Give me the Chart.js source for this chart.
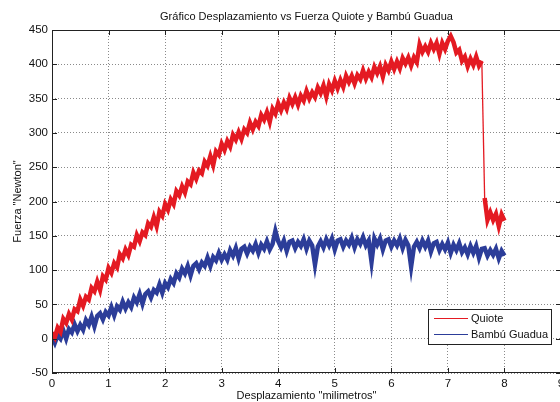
<!DOCTYPE html>
<html>
<head>
<meta charset="utf-8">
<script src="https://cdn.jsdelivr.net/npm/chart.js@4/dist/chart.umd.min.js"></script>
<style>
  html, body { margin: 0; padding: 0; background: #fff; overflow: hidden; }
  #grafico { display: block; }
</style>
</head>
<body>
<canvas id="grafico" width="580" height="402"></canvas>
<script>
// Desplazamiento (mm), muestras cada 0.05 mm
const desplazamiento = [
  0, 0.05, 0.1, 0.15, 0.2, 0.25, 0.3, 0.35, 0.4, 0.45,
  0.5, 0.55, 0.6, 0.65, 0.7, 0.75, 0.8, 0.85, 0.9, 0.95,
  1, 1.05, 1.1, 1.15, 1.2, 1.25, 1.3, 1.35, 1.4, 1.45,
  1.5, 1.55, 1.6, 1.65, 1.7, 1.75, 1.8, 1.85, 1.9, 1.95,
  2, 2.05, 2.1, 2.15, 2.2, 2.25, 2.3, 2.35, 2.4, 2.45,
  2.5, 2.55, 2.6, 2.65, 2.7, 2.75, 2.8, 2.85, 2.9, 2.95,
  3, 3.05, 3.1, 3.15, 3.2, 3.25, 3.3, 3.35, 3.4, 3.45,
  3.5, 3.55, 3.6, 3.65, 3.7, 3.75, 3.8, 3.85, 3.9, 3.95,
  4, 4.05, 4.1, 4.15, 4.2, 4.25, 4.3, 4.35, 4.4, 4.45,
  4.5, 4.55, 4.6, 4.65, 4.7, 4.75, 4.8, 4.85, 4.9, 4.95,
  5, 5.05, 5.1, 5.15, 5.2, 5.25, 5.3, 5.35, 5.4, 5.45,
  5.5, 5.55, 5.6, 5.65, 5.7, 5.75, 5.8, 5.85, 5.9, 5.95,
  6, 6.05, 6.1, 6.15, 6.2, 6.25, 6.3, 6.35, 6.4, 6.45,
  6.5, 6.55, 6.6, 6.65, 6.7, 6.75, 6.8, 6.85, 6.9, 6.95,
  7, 7.05, 7.1, 7.15, 7.2, 7.25, 7.3, 7.35, 7.4, 7.45,
  7.5, 7.55, 7.6, 7.65, 7.7, 7.75, 7.8, 7.85, 7.9, 7.95,
  8
];

// Fuerza (N) - Quiote
const fuerzaQuiote = [
  9, 2, 16, 10, 29, 23, 36, 28, 43, 40,
  57, 48, 61, 57, 74, 69, 83, 71, 91, 86,
  103, 96, 110, 104, 123, 117, 130, 122, 137, 134,
  151, 142, 155, 151, 168, 163, 177, 164, 185, 179,
  196, 188, 203, 196, 215, 209, 222, 213, 229, 225,
  242, 233, 245, 241, 258, 252, 266, 253, 273, 268,
  284, 275, 288, 280, 297, 290, 301, 291, 305, 300,
  315, 305, 316, 310, 326, 319, 330, 316, 335, 328,
  343, 333, 344, 335, 351, 342, 352, 341, 354, 347,
  361, 350, 359, 352, 366, 358, 369, 353, 371, 362,
  376, 365, 377, 367, 383, 374, 383, 372, 384, 378,
  391, 379, 389, 381, 396, 387, 397, 382, 399, 391,
  404, 393, 404, 394, 409, 401, 410, 398, 410, 403,
  429, 418, 426, 418, 431, 422, 431, 415, 431, 422,
  434, 441, 432, 417, 421, 405, 411, 397, 408, 399,
  411, 398, 405, 205, 173, 184, 173, 182, 164, 181,
  172
];

// Fuerza (N) - Bambú Guadua
const fuerzaBambu = [
  3, -6, 5, 0, 12, 0, 14, 9, 21, 11,
  20, 13, 27, 20, 32, 18, 33, 37, 28, 39,
  34, 46, 34, 47, 42, 54, 44, 53, 46, 60,
  53, 65, 51, 65, 69, 60, 71, 67, 79, 67,
  81, 75, 87, 81, 95, 89, 102, 95, 106, 92,
  106, 110, 101, 111, 106, 118, 106, 119, 114, 125,
  115, 123, 115, 129, 121, 132, 117, 131, 134, 124,
  134, 128, 138, 125, 137, 131, 142, 130, 138, 157,
  142, 133, 143, 128, 141, 143, 132, 141, 135, 145,
  131, 143, 136, 108, 134, 142, 133, 145, 136, 146,
  130, 143, 145, 134, 143, 137, 147, 133, 145, 138,
  148, 136, 143, 112, 146, 137, 146, 130, 143, 145,
  134, 143, 136, 146, 132, 144, 136, 105, 134, 141,
  132, 143, 134, 143, 127, 139, 141, 129, 138, 130,
  140, 125, 137, 129, 139, 126, 133, 123, 135, 125,
  135, 118, 131, 132, 121, 129, 122, 131, 117, 128,
  121
];

const series = ["Quiote", "Bambú Guadua"];
const coloresSerie = ["#e41a22", "#2c3d99"];
const ticksX = [0, 1, 2, 3, 4, 5, 6, 7, 8, 9];
const ticksY = [-50, 0, 50, 100, 150, 200, 250, 300, 350, 400, 450];

const fuente = "'Liberation Sans', Arial, sans-serif";

function puntos(ys) {
  return ys.map((y, i) => ({ x: desplazamiento[i], y: y }));
}

// el tramo de la caida brusca se ve como una linea fina
function anchoTramo(c) {
  return Math.abs(c.p1.parsed.y - c.p0.parsed.y) > 100 ? 1.3 : undefined;
}

// titulo, marco con marcas hacia dentro y leyenda al estilo MATLAB
const estiloMatlab = {
  id: "estiloMatlab",
  afterDraw(chart) {
    const ctx = chart.ctx;
    const a = chart.chartArea;
    const sx = chart.scales.x;
    const sy = chart.scales.y;

    ctx.save();
    ctx.fillStyle = "#111";
    ctx.font = "11px " + fuente;
    ctx.textAlign = "center";
    ctx.textBaseline = "middle";
    ctx.fillText("Gráfico Desplazamiento vs Fuerza Quiote y Bambú Guadua", (a.left + a.right) / 2, 17);

    ctx.strokeStyle = "#222";
    ctx.lineWidth = 1;
    ctx.strokeRect(a.left + 0.5, a.top + 0.5, a.right - a.left - 1, a.bottom - a.top - 1);

    ctx.beginPath();
    ticksX.forEach((v) => {
      const px = Math.round(sx.getPixelForValue(v)) + 0.5;
      ctx.moveTo(px, a.bottom);
      ctx.lineTo(px, a.bottom - 5);
      ctx.moveTo(px, a.top);
      ctx.lineTo(px, a.top + 5);
    });
    ticksY.forEach((v) => {
      const py = Math.round(sy.getPixelForValue(v)) + 0.5;
      ctx.moveTo(a.left, py);
      ctx.lineTo(a.left + 5, py);
      ctx.moveTo(a.right, py);
      ctx.lineTo(a.right - 5, py);
    });
    ctx.stroke();

    // leyenda
    const lx = 428, ly = 309, lw = 123, lh = 35;
    ctx.fillStyle = "#fff";
    ctx.fillRect(lx, ly, lw, lh);
    ctx.strokeStyle = "#222";
    ctx.strokeRect(lx + 0.5, ly + 0.5, lw, lh);
    ctx.textAlign = "left";
    ctx.font = "11px " + fuente;
    series.forEach((nombre, i) => {
      const y = ly + 9.5 + i * 16;
      ctx.strokeStyle = coloresSerie[i];
      ctx.beginPath();
      ctx.moveTo(434, y);
      ctx.lineTo(468, y);
      ctx.stroke();
      ctx.fillStyle = "#111";
      ctx.fillText(nombre, 471, y + 0.5);
    });
    ctx.restore();
  },
};

const ctx = document.getElementById("grafico").getContext("2d");
new Chart(ctx, {
  type: "line",
  data: {
    datasets: [
      {
        label: series[0],
        data: puntos(fuerzaQuiote),
        borderColor: coloresSerie[0],
        borderWidth: 4.5,
        pointRadius: 0,
        tension: 0,
        segment: { borderWidth: anchoTramo },
      },
      {
        label: series[1],
        data: puntos(fuerzaBambu),
        borderColor: coloresSerie[1],
        borderWidth: 4.5,
        pointRadius: 0,
        tension: 0,
      },
    ],
  },
  options: {
    responsive: false,
    animation: false,
    events: [],
    layout: { padding: { top: 30, right: 19, left: 0, bottom: 0 } },
    plugins: {
      legend: { display: false },
      tooltip: { enabled: false },
    },
    scales: {
      x: {
        type: "linear",
        min: 0,
        max: 9,
        afterBuildTicks: (s) => { s.ticks = ticksX.map((v) => ({ value: v })); },
        afterFit: (s) => { s.height = 29; },
        grid: { color: "#8a8a8a", lineWidth: 1, drawTicks: false },
        border: { display: false, dash: [1, 2] },
        ticks: { color: "#111", font: { family: fuente, size: 11.5 }, padding: 4, maxRotation: 0 },
        title: {
          display: true,
          text: 'Desplazamiento "milimetros"',
          color: "#111",
          font: { family: fuente, size: 11 },
          padding: { top: 0, bottom: -1 },
        },
      },
      y: {
        min: -50,
        max: 450,
        afterBuildTicks: (s) => { s.ticks = ticksY.map((v) => ({ value: v })); },
        afterFit: (s) => { s.width = 52; },
        grid: { color: "#8a8a8a", lineWidth: 1, drawTicks: false },
        border: { display: false, dash: [1, 2] },
        ticks: { color: "#111", font: { family: fuente, size: 11.5 }, padding: 4 },
        title: {
          display: true,
          text: 'Fuerza "Newton"',
          color: "#111",
          font: { family: fuente, size: 11 },
          padding: { top: 11, bottom: 0 },
        },
      },
    },
  },
  plugins: [estiloMatlab],
});
</script>
</body>
</html>
